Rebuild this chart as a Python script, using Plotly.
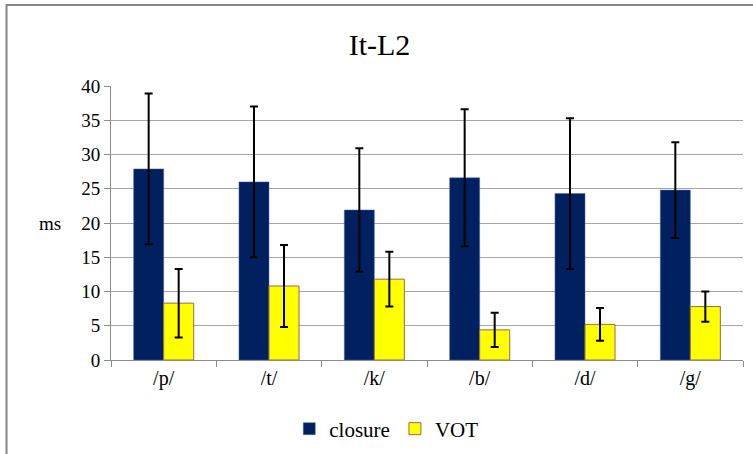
import plotly.graph_objects as go

categories = ["/p/", "/t/", "/k/", "/b/", "/d/", "/g/"]
closure = [27.9, 26.0, 21.9, 26.6, 24.3, 24.8]
closure_err = [11.0, 11.0, 9.0, 10.0, 11.0, 7.0]
vot = [8.3, 10.8, 11.8, 4.4, 5.2, 7.8]
vot_err = [5.0, 6.0, 4.0, 2.5, 2.4, 2.2]
y_ticks = [0, 5, 10, 15, 20, 25, 30, 35, 40]

FONT = "Liberation Serif"

fig = go.Figure()
fig.add_trace(go.Bar(
    name="closure", x=categories, y=closure,
    marker=dict(color="#002060", line=dict(color="#4a6aa8", width=0.5)),
    error_y=dict(type="data", array=closure_err, visible=True,
                 color="black", thickness=2, width=4),
))
fig.add_trace(go.Bar(
    name="VOT", x=categories, y=vot,
    marker=dict(color="#FFFF00", line=dict(color="#9c6a4a", width=1)),
    error_y=dict(type="data", array=vot_err, visible=True,
                 color="black", thickness=2, width=4),
))

fig.update_layout(
    width=753, height=454,
    margin=dict(l=111, r=10, t=86, b=94, autoexpand=False),
    paper_bgcolor="white", plot_bgcolor="white",
    barmode="group", bargap=0.43, bargroupgap=0,
    font=dict(family=FONT, color="black", size=19),
    title=dict(text="It-L2", x=0.504, xanchor="center", xref="container",
               y=1 - 44 / 454, yanchor="middle", yref="container",
               font=dict(family=FONT, size=30, color="black")),
    legend=dict(orientation="h", x=0.513, xanchor="center", xref="container",
                y=1 - 429 / 454, yanchor="middle", yref="container",
                font=dict(family=FONT, size=21),
                itemwidth=30, traceorder="normal"),
    showlegend=True,
)
fig.update_xaxes(
    showline=True, linecolor="#8c8c8c", linewidth=1,
    ticks="outside", tickson="boundaries", ticklen=6, tickcolor="#8c8c8c",
    tickfont=dict(family=FONT, size=20), showgrid=False, automargin=False,
)
fig.update_yaxes(
    range=[0, 40], tickvals=y_ticks, showgrid=True, gridcolor="#a6a6a6",
    gridwidth=1, showline=True, linecolor="#8c8c8c", linewidth=1,
    ticks="outside", ticklen=6, tickcolor="#8c8c8c",
    tickfont=dict(family=FONT, size=19), zeroline=False, automargin=False,
)
fig.add_annotation(text="ms", x=-0.097, xref="paper", y=20, yref="y",
                   showarrow=False, xanchor="center", yanchor="middle",
                   font=dict(family=FONT, size=19, color="black"))
fig.add_shape(type="rect", xref="paper", yref="paper",
              x0=-0.1653, x1=1.05, y0=-0.5, y1=1.2956,
              line=dict(color="#868686", width=2), layer="below")

fig.write_html("out.html", config={"displayModeBar": False},
               post_script="document.body.style.margin='0';document.body.style.overflow='hidden';")
